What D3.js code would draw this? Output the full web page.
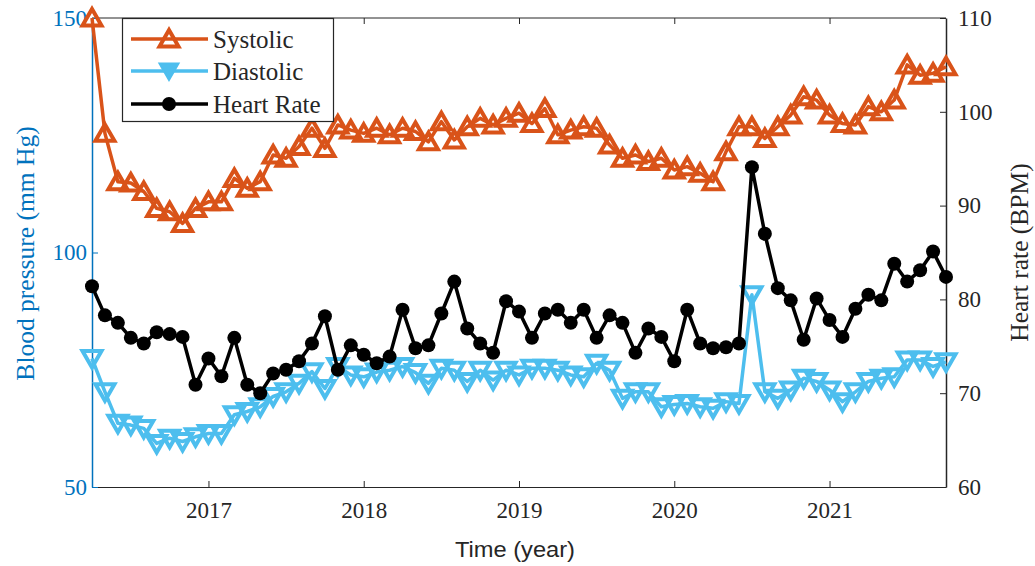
<!DOCTYPE html>
<html>
<head>
<meta charset="utf-8">
<script src="https://cdn.jsdelivr.net/npm/d3@7"></script>
<style>
  html, body { margin: 0; padding: 0; background: #fff; }
  svg { display: block; }
</style>
</head>
<body>
<svg id="chart" width="1035" height="566"></svg>
<script>
// Monthly readings, April 2016 to October 2021
const months = d3.timeMonth.range(new Date(2016, 3, 1), new Date(2021, 10, 1));

const systolic = [
  150.0, 125.4, 115.1, 114.8, 113.0, 109.4, 108.7, 106.2, 109.4, 110.8,
  110.8, 115.8, 113.7, 115.1, 120.8, 120.1, 122.6, 126.5, 122.2, 127.2,
  126.1, 125.4, 126.5, 125.1, 126.5, 125.8, 123.6, 127.9, 124.0, 126.8,
  128.6, 127.2, 128.6, 129.7, 127.5, 130.7, 125.1, 126.1, 126.8, 126.5,
  122.9, 120.1, 120.8, 119.4, 120.1, 117.6, 118.3, 116.9, 115.1, 121.5,
  126.8, 126.8, 124.3, 126.8, 129.3, 133.2, 132.5, 129.3, 127.5, 127.2,
  131.1, 130.0, 132.5, 140.0, 137.8, 138.2, 139.6
];

const diastolic = [
  77.4, 70.3, 63.6, 63.2, 62.5, 59.3, 60.4, 59.7, 60.7, 61.4,
  61.4, 65.4, 66.1, 67.1, 69.3, 70.3, 72.1, 74.6, 71.0, 75.7,
  73.9, 73.5, 74.5, 74.9, 75.7, 74.4, 72.1, 75.3, 74.9, 72.5,
  74.9, 72.8, 74.9, 73.9, 75.3, 75.3, 74.9, 73.9, 73.5, 76.4,
  74.9, 68.9, 70.3, 70.3, 67.1, 67.6, 67.8, 67.1, 66.8, 68.2,
  67.8, 91.0, 70.3, 68.9, 70.7, 73.2, 72.5, 70.7, 68.2, 70.3,
  72.5, 73.2, 73.5, 77.1, 77.1, 75.7, 76.7
];

const heartRate = [
  81.4, 78.3, 77.5, 75.9, 75.3, 76.5, 76.3, 76.0, 70.9, 73.7,
  71.8, 75.9, 70.9, 70.0, 72.1, 72.5, 73.4, 75.3, 78.2, 72.5,
  75.1, 74.1, 73.2, 73.9, 78.9, 74.8, 75.1, 78.5, 81.9, 76.9,
  75.3, 74.3, 79.8, 78.7, 75.9, 78.5, 78.9, 77.5, 78.9, 75.9,
  78.3, 77.5, 74.3, 76.9, 76.0, 73.4, 78.9, 75.3, 74.8, 74.9,
  75.3, 94.1, 87.0, 81.2, 79.9, 75.7, 80.1, 77.8, 76.0, 79.0,
  80.5, 79.9, 83.8, 81.9, 83.1, 85.1, 82.4
];

const yearTicks = [2017, 2018, 2019, 2020, 2021];
const bpTicks = [50, 100, 150];
const hrTicks = [60, 70, 80, 90, 100, 110];

const seriesNames = ["Systolic", "Diastolic", "Heart Rate"];
const colSys = "#D95319", colDia = "#4DBEEE", colHR = "#000000";
const colLeft = "#0072BD", colRight = "#262626";

const svg = d3.select("#chart");
const L = 92, R = 946, T = 18, B = 487;

const decYear = d => d.getFullYear() + d.getMonth() / 12;
const x = d3.scaleLinear().domain([2016.25, 2021.75]).range([L, R]);
const yL = d3.scaleLinear().domain([50, 150]).range([B, T]);
const yR = d3.scaleLinear().domain([60, 110]).range([B, T]);

const serif = "'Liberation Serif', 'Times New Roman', serif";
const sans = "'Liberation Sans', Arial, sans-serif";

// Frame: top box line with mirrored year ticks
svg.append("line").attr("x1", L).attr("x2", R).attr("y1", T).attr("y2", T)
  .attr("stroke", colRight).attr("stroke-width", 1);

const xAxis = svg.append("g").attr("transform", `translate(0,${B})`)
  .call(d3.axisBottom(x).tickValues(yearTicks).tickFormat(d3.format("d"))
    .tickSizeInner(-6).tickSizeOuter(0).tickPadding(15));
xAxis.select(".domain").attr("stroke", colRight);
xAxis.selectAll(".tick line").attr("stroke", colRight);
xAxis.selectAll("text").attr("font-family", serif).attr("font-size", 23)
  .attr("fill", colRight);

const xTop = svg.append("g").attr("transform", `translate(0,${T})`)
  .call(d3.axisTop(x).tickValues(yearTicks).tickFormat("").tickSizeInner(-6).tickSizeOuter(0));
xTop.select(".domain").remove();
xTop.selectAll(".tick line").attr("stroke", colRight);

// Left axis: blood pressure
const yAxisL = svg.append("g").attr("transform", `translate(${L},0)`)
  .call(d3.axisLeft(yL).tickValues(bpTicks).tickSizeInner(-6).tickSizeOuter(0).tickPadding(5));
yAxisL.select(".domain").attr("stroke", colLeft).attr("stroke-width", 1.5);
yAxisL.selectAll(".tick line").attr("stroke", colLeft);
yAxisL.selectAll("text").attr("font-family", serif).attr("font-size", 23).attr("fill", colLeft);

// Right axis: heart rate
const yAxisR = svg.append("g").attr("transform", `translate(${R},0)`)
  .call(d3.axisRight(yR).tickValues(hrTicks).tickSizeInner(-6).tickSizeOuter(0).tickPadding(12));
yAxisR.select(".domain").attr("stroke", colRight).attr("stroke-width", 1.5);
yAxisR.selectAll(".tick line").attr("stroke", colRight);
yAxisR.selectAll("text").attr("font-family", serif).attr("font-size", 23).attr("fill", colRight);

// Axis titles
svg.append("text").attr("x", (L + R) / 2 - 4).attr("y", 557).attr("text-anchor", "middle")
  .attr("font-family", sans).attr("font-size", 22).attr("fill", colRight)
  .attr("textLength", 120).attr("lengthAdjust", "spacingAndGlyphs")
  .text("Time (year)");
svg.append("text").attr("transform", `translate(25,${(T + B) / 2 + 1}) rotate(-90)`)
  .attr("text-anchor", "middle").attr("dy", "0.35em")
  .attr("font-family", serif).attr("font-size", 25.5).attr("fill", colLeft)
  .text("Blood pressure (mm Hg)");
svg.append("text").attr("transform", `translate(1019,${(T + B) / 2}) rotate(-90)`)
  .attr("text-anchor", "middle").attr("dy", "0.35em")
  .attr("font-family", serif).attr("font-size", 25.5).attr("fill", colRight)
  .text("Heart rate (BPM)");

// Marker shapes
const triUp = "M0,-9L9.5,7.5L-9.5,7.5Z";
const triDown = "M0,9L9.5,-7.5L-9.5,-7.5Z";

function drawSeries(values, yScale, color, marker) {
  const g = svg.append("g");
  const line = d3.line().x((d, i) => x(decYear(months[i]))).y(d => yScale(d));
  g.append("path").datum(values).attr("d", line)
    .attr("fill", "none").attr("stroke", color).attr("stroke-width", 3.5)
    .attr("stroke-linejoin", "round");
  const pts = g.selectAll("g.pt").data(values).join("g")
    .attr("transform", (d, i) => `translate(${x(decYear(months[i]))},${yScale(d)})`);
  if (marker === "circle") {
    pts.append("circle").attr("r", 7).attr("fill", color);
  } else {
    pts.append("path").attr("d", marker === "up" ? triUp : triDown)
      .attr("fill", "none").attr("stroke", color).attr("stroke-width", 4)
      .attr("stroke-linejoin", "miter");
  }
}

drawSeries(systolic, yL, colSys, "up");
drawSeries(diastolic, yL, colDia, "down");
drawSeries(heartRate, yR, colHR, "circle");

// Legend
const lg = svg.append("g");
lg.append("rect").attr("x", 122.5).attr("y", 18.5).attr("width", 211).attr("height", 103)
  .attr("fill", "#fff").attr("stroke", colRight).attr("stroke-width", 1.2);
const legendItems = [
  { name: seriesNames[0], color: colSys, marker: "up", y: 39 },
  { name: seriesNames[1], color: colDia, marker: "down", y: 71 },
  { name: seriesNames[2], color: colHR, marker: "circle", y: 104 }
];
legendItems.forEach(it => {
  lg.append("line").attr("x1", 131).attr("x2", 208).attr("y1", it.y).attr("y2", it.y)
    .attr("stroke", it.color).attr("stroke-width", 3.5);
  if (it.marker === "circle") {
    lg.append("circle").attr("cx", 169).attr("cy", it.y).attr("r", 7).attr("fill", it.color);
  } else if (it.marker === "down") {
    lg.append("path").attr("transform", `translate(169,${it.y})`).attr("d", triDown)
      .attr("fill", it.color).attr("stroke", it.color).attr("stroke-width", 2);
  } else {
    lg.append("path").attr("transform", `translate(169,${it.y})`).attr("d", triUp)
      .attr("fill", "none").attr("stroke", it.color).attr("stroke-width", 4);
  }
  lg.append("text").attr("x", 213).attr("y", it.y).attr("dy", "0.35em")
    .attr("font-family", serif).attr("font-size", 25).attr("fill", colRight)
    .text(it.name);
});
</script>
</body>
</html>
